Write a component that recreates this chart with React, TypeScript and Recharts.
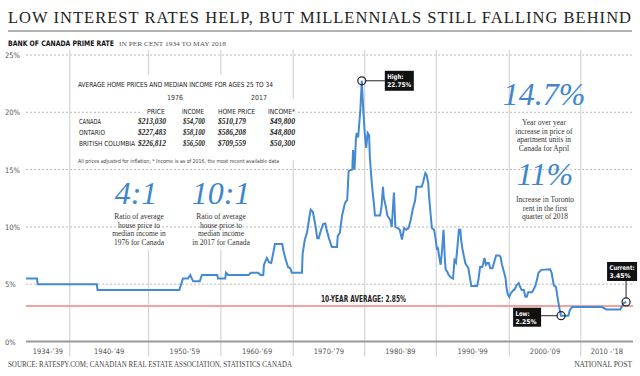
import {
  LineChart,
  Line,
  XAxis,
  YAxis,
  CartesianGrid,
  ReferenceLine,
  ReferenceDot,
} from 'recharts';

// Prime rate as drawn, year position on the chart's axis
const YEARS = [
  1934.0, 1935.5, 1935.6, 1943.7, 1943.8, 1955.0, 1955.5, 1956.2, 1956.5, 1956.9,
  1957.8, 1958.1, 1960.2, 1960.3, 1961.3, 1961.4, 1961.7, 1964.5, 1964.8, 1965.8,
  1966.1, 1966.5, 1966.6, 1967.0, 1967.3, 1967.6, 1967.8, 1968.1, 1969.1, 1969.3,
  1969.6, 1969.9, 1970.2, 1970.4, 1971.8, 1971.9, 1972.2, 1972.5, 1972.8, 1973.0,
  1973.3, 1973.6, 1973.9, 1974.1, 1974.4, 1974.7, 1975.0, 1975.2, 1975.5, 1975.9,
  1976.6, 1976.7, 1977.0, 1977.3, 1977.7, 1978.0, 1978.2, 1978.7, 1978.8, 1979.0,
  1979.2, 1979.3, 1979.5, 1979.8, 1980.0, 1980.2, 1980.4, 1980.6, 1980.8, 1981.0,
  1981.1, 1981.3, 1981.5, 1981.7, 1981.8, 1982.5, 1982.7, 1982.9, 1983.0, 1983.3,
  1983.5, 1983.9, 1984.1, 1984.4, 1984.6, 1984.9, 1985.2, 1985.5, 1985.8, 1986.1,
  1986.4, 1986.7, 1987.0, 1987.3, 1987.5, 1988.2, 1988.4, 1988.7, 1988.9, 1989.1,
  1989.2, 1989.4, 1989.6, 1989.9, 1990.1, 1990.3, 1990.4, 1990.6, 1990.8, 1991.0,
  1991.2, 1991.4, 1991.5, 1991.7, 1991.9, 1992.2, 1992.5, 1992.7, 1992.9, 1993.1,
  1993.3, 1993.5, 1993.6, 1993.8, 1994.0, 1994.2, 1994.5, 1994.6, 1994.8, 1995.0,
  1995.8, 1996.0, 1996.2, 1996.5, 1996.6, 1996.8, 1997.0, 1997.2, 1997.4, 1997.6,
  1997.9, 1998.1, 1998.4, 1998.8, 1999.0, 1999.2, 1999.5, 1999.7, 1999.8, 2000.0,
  2000.2, 2000.4, 2000.8, 2000.9, 2001.2, 2001.5, 2001.7, 2001.9, 2002.2, 2002.4,
  2002.6, 2002.8, 2003.3, 2003.5, 2003.8, 2004.0, 2004.2, 2004.6, 2005.8, 2006.0,
  2006.3, 2006.6, 2006.8, 2007.1, 2007.3, 2008.3, 2008.5, 2008.8, 2012.9, 2013.5,
  2015.4, 2015.9, 2016.2,
];

const RATES = [
  5.5, 5.5, 5.0, 5.0, 4.5, 4.5, 5.5, 5.5, 5.8, 5.25,
  5.25, 5.8, 5.8, 5.5, 5.5, 6.0, 5.8, 5.8, 6.0, 6.0,
  5.8, 5.8, 6.7, 7.3, 6.9, 6.85, 7.5, 8.5, 8.5, 7.8,
  7.1, 6.5, 6.4, 6.0, 6.0, 7.7, 8.9, 9.5, 10.8, 11.5,
  11.3, 10.3, 9.0, 9.0, 9.7, 10.25, 10.3, 9.7, 9.0, 8.25,
  8.25, 9.2, 9.5, 11.0, 12.1, 12.35, 14.9, 15.0, 16.7, 15.0,
  17.75, 18.2, 17.8, 20.2, 22.75, 20.2, 18.2, 16.9, 18.2, 18.0,
  16.1, 14.35, 12.95, 11.75, 11.0, 11.0, 11.75, 13.5, 12.6, 11.75,
  11.0, 10.6, 10.0, 13.0, 10.0, 9.9, 9.75, 8.9, 9.9, 9.75,
  9.9, 10.6, 11.6, 12.3, 13.5, 13.5, 13.9, 14.7, 14.5, 13.8,
  12.8, 11.3, 9.9, 9.75, 9.0, 8.0, 8.25, 7.4, 6.7, 8.0,
  9.75, 6.9, 6.25, 6.1, 5.8, 5.6, 5.5, 7.1, 6.9, 8.25,
  9.75, 9.75, 8.9, 8.0, 7.4, 6.8, 6.5, 6.4, 5.6, 4.85,
  4.85, 5.5, 6.5, 6.5, 6.7, 7.3, 6.7, 6.85, 6.85, 6.4,
  6.4, 6.85, 7.5, 7.5, 7.4, 6.7, 6.0, 5.5, 4.8, 4.1,
  3.9, 4.2, 4.5, 4.5, 4.9, 5.1, 4.75, 4.5, 4.5, 3.9,
  3.9, 4.3, 4.3, 4.5, 4.9, 5.4, 6.0, 6.25, 6.3, 6.0,
  4.9, 4.75, 3.9, 2.8, 2.25, 2.25, 2.75, 3.0, 3.0, 2.8,
  2.8, 3.35, 3.45,
];

const X_START = 1934;
const X_END = 2017.15;
const DECADE_EDGES = [1940, 1950.8, 1960.7, 1970.6, 1980.4, 1990.2, 2000.2, 2010];
const DECADE_LABELS = [
  '1934-’39', '1940-’49', '1950-’59', '1960-’69', '1970-’79',
  '1980-’89', '1990-’99', '2000-’09', '2010 -’18',
];
// parts of a decade line hidden behind the table and notes
const GRID_GAPS: ([number, number] | null)[] = [
  null, [8, 23.3], [8, 23.3], [15.8, 21.2], null, null, null, null,
];
const Y_TICKS = [0, 5, 10, 15, 20, 25];

const AVERAGE_RATE = 3.1;
const AVERAGE_LABEL = '10-YEAR AVERAGE: 2.85%';

const TABLE_YEARS = ['1976', '2017'];
const TABLE_COLUMNS = ['PRICE', 'INCOME', 'HOME PRICE', 'INCOME*'];
const REGIONS = ['CANADA', 'ONTARIO', 'BRITISH COLUMBIA'];
const PRICE_1976 = ['$213,030', '$227,483', '$226,812'];
const INCOME_1976 = ['$54,700', '$58,100', '$56,500'];
const PRICE_2017 = ['$510,179', '$586,208', '$709,559'];
const INCOME_2017 = ['$49,800', '$48,800', '$50,300'];

const SANS = "'Liberation Sans Narrow', 'DejaVu Sans Condensed', Roboto, sans-serif";
const SERIF = "'Liberation Serif', 'DejaVu Serif', serif";
const BLUE = '#4489d4';
const BIG_BLUE = '#3f86cc';

const data = YEARS.map((year, i) => ({ year, rate: RATES[i] }));

const bounds = [X_START, ...DECADE_EDGES, X_END];
const tickMids = DECADE_LABELS.map((_, i) => (bounds[i] + bounds[i + 1]) / 2);

const highIdx = RATES.indexOf(Math.max(...RATES));
const lowIdx = RATES.lastIndexOf(Math.min(...RATES)) - 1;
const lastIdx = RATES.length - 1;

type Box = { dx: number; dy: number; w: number; h: number };

function Callout(props: any) {
  const { cx, cy, box, lead, lines, widths } = props as {
    cx: number;
    cy: number;
    box: Box;
    lead: [number, number, number, number];
    lines: string[];
    widths: number[];
  };
  const bx = cx + box.dx;
  const by = cy + box.dy;
  return (
    <g>
      <line
        x1={cx + lead[0]}
        y1={cy + lead[1]}
        x2={cx + lead[2]}
        y2={cy + lead[3]}
        stroke="#222"
        strokeWidth={1}
      />
      <circle cx={cx} cy={cy} r={4} fill="none" stroke="#222" strokeWidth={1.2} />
      <rect x={bx} y={by} width={box.w} height={box.h} fill="#111" />
      {lines.map((t, i) => (
        <text
          key={t}
          x={bx + 2.5}
          y={by + 8 + i * 8.3}
          fill="#fff"
          fontFamily={SANS}
          fontWeight={700}
          fontSize={6.5}
          textLength={widths[i]}
          lengthAdjust="spacingAndGlyphs"
        >
          {t}
        </text>
      ))}
    </g>
  );
}

function Note({ x, y, lines }: { x: number; y: number; lines: string[] }) {
  return (
    <text fontFamily={SERIF} fontSize={7.5} fill="#333" textAnchor="middle">
      {lines.map((t, i) => (
        <tspan key={t} x={x} y={y + i * 8.6}>
          {t}
        </tspan>
      ))}
    </text>
  );
}

function Overlay() {
  const colX = [138, 183, 218, 270];
  const colW = [28, 22, 28, 25];
  const headX = [147, 182, 218, 268];
  const headW = [18, 22, 37, 27];
  const regionW = [22, 26, 56];
  const rowY = [124, 135, 146];
  const cols = [PRICE_1976, INCOME_1976, PRICE_2017, INCOME_2017];
  return (
    <svg
      width={640}
      height={376}
      style={{ position: 'absolute', left: 0, top: 0, pointerEvents: 'none' }}
    >
      <text x={8} y={23} fontFamily={SERIF} fontSize={16.5} fill="#222" textLength={623} lengthAdjust="spacing">
        LOW INTEREST RATES HELP, BUT MILLENNIALS STILL FALLING BEHIND
      </text>
      <line x1={8} x2={632} y1={31} y2={31} stroke="#999" strokeWidth={1.5} />
      <text y={45.5}>
        <tspan x={8} fontFamily={SANS} fontWeight={700} fontSize={7.5} fill="#111" textLength={106} lengthAdjust="spacingAndGlyphs">
          BANK OF CANADA PRIME RATE
        </tspan>
        <tspan x={119} fontFamily={SERIF} fontSize={6.5} fill="#555" textLength={107} lengthAdjust="spacingAndGlyphs">
          IN PER CENT 1934 TO MAY 2018
        </tspan>
      </text>

      {/* table */}
      <rect x={140} y={106} width={158} height={10} fill="#fff" />
      <text x={78} y={86.5} fontFamily={SANS} fontSize={7} fill="#222" textLength={195} lengthAdjust="spacingAndGlyphs">
        AVERAGE HOME PRICES AND MEDIAN INCOME FOR AGES 25 TO 34
      </text>
      <text x={175} y={100} fontFamily={SANS} fontSize={7} fill="#333" textAnchor="middle">
        {TABLE_YEARS[0]}
      </text>
      <text x={259} y={100} fontFamily={SANS} fontSize={7} fill="#333" textAnchor="middle">
        {TABLE_YEARS[1]}
      </text>
      {TABLE_COLUMNS.map((c, i) => (
        <text
          key={c}
          x={headX[i]}
          y={113.5}
          fontFamily={SANS}
          fontSize={7}
          fill="#222"
          textLength={headW[i]}
          lengthAdjust="spacingAndGlyphs"
        >
          {c}
        </text>
      ))}
      {REGIONS.map((r, ri) => (
        <g key={r}>
          <text
            x={79}
            y={rowY[ri]}
            fontFamily={SANS}
            fontSize={7}
            fill="#222"
            textLength={regionW[ri]}
            lengthAdjust="spacingAndGlyphs"
          >
            {r}
          </text>
          {cols.map((col, ci) => (
            <text
              key={ci}
              x={colX[ci]}
              y={rowY[ri]}
              fontFamily={SERIF}
              fontStyle="italic"
              fontWeight={700}
              fontSize={8}
              fill="#222"
              textLength={colW[ci]}
              lengthAdjust="spacingAndGlyphs"
            >
              {col[ri]}
            </text>
          ))}
        </g>
      ))}
      <text x={78} y={163} fontFamily={SANS} fontSize={5.5} fill="#444" textLength={201} lengthAdjust="spacingAndGlyphs">
        All prices adjusted for inflation; * Income is as of 2016, the most recent available data
      </text>

      {/* big figures */}
      <text x={136} y={204} fontFamily={SERIF} fontStyle="italic" fontSize={32} fill={BIG_BLUE} textAnchor="middle">
        4:1
      </text>
      <Note x={139} y={219} lines={['Ratio of average', 'house price to', 'median income in', '1976 for Canada']} />
      <text x={221} y={204} fontFamily={SERIF} fontStyle="italic" fontSize={32} fill={BIG_BLUE} textAnchor="middle">
        10:1
      </text>
      <Note x={221} y={219} lines={['Ratio of average', 'house price to', 'median income', 'in 2017 for Canada']} />
      <text x={544} y={105} fontFamily={SERIF} fontStyle="italic" fontSize={32} fill={BIG_BLUE} textAnchor="middle">
        14.7%
      </text>
      <Note x={544} y={125} lines={['Year over year', 'increase in price of', 'apartment units in', 'Canada for April']} />
      <text x={545} y={185} fontFamily={SERIF} fontStyle="italic" fontSize={32} fill={BIG_BLUE} textAnchor="middle">
        11%
      </text>
      <Note x={545} y={202} lines={['Increase in Toronto', 'rent in the first', 'quarter of 2018']} />

      <text x={8} y={367} fontFamily={SERIF} fontSize={7.5} fill="#444" textLength={284} lengthAdjust="spacingAndGlyphs">
        SOURCE: RATESPY.COM; CANADIAN REAL ESTATE ASSOCIATION, STATISTICS CANADA
      </text>
      <text x={632} y={367} fontFamily={SERIF} fontSize={7.5} fill="#444" textAnchor="end">
        NATIONAL POST
      </text>
    </svg>
  );
}

export default function App() {
  const high = data[highIdx];
  const low = data[lowIdx];
  const current = data[lastIdx];
  return (
    <div style={{ position: 'absolute', left: 0, top: 0, width: 640, height: 376, background: '#fff' }}>
      <LineChart
        width={640}
        height={376}
        data={data}
        margin={{ top: 55, right: 7, bottom: 14.5, left: 0 }}
      >
        <CartesianGrid vertical={false} stroke="#bbb" strokeDasharray="2 2" />
        {DECADE_EDGES.map((x, i) => {
          const gap = GRID_GAPS[i];
          const parts: [number, number][] = gap
            ? [[-1.3, gap[0]], [gap[1], 25.45]]
            : [[-1.3, 25.45]];
          return parts.map(([a, b]) => (
            <ReferenceLine
              key={`${x}-${a}`}
              segment={[{ x, y: a }, { x, y: b }]}
              stroke="#ccc"
              strokeWidth={1}
              ifOverflow="visible"
            />
          ));
        })}
        <XAxis
          type="number"
          dataKey="year"
          domain={[X_START, X_END]}
          ticks={tickMids}
          interval={0}
          height={20}
          tickLine={false}
          tickSize={0}
          axisLine={{ stroke: '#999', strokeWidth: 2 }}
          tick={(p: any) => (
            <text x={p.x} y={p.y + 10.5} textAnchor="middle" fontFamily={SANS} fontSize={7.5} fill="#555">
              {DECADE_LABELS[tickMids.indexOf(p.payload.value)]}
            </text>
          )}
        />
        <YAxis
          domain={[0, 25]}
          ticks={Y_TICKS}
          width={26}
          axisLine={false}
          tickLine={false}
          tick={(p: any) => (
            <text x={5} y={p.y + 3} fontFamily={SANS} fontSize={7.5} fill="#555">
              {`${p.payload.value}%`}
            </text>
          )}
        />
        <ReferenceLine
          y={AVERAGE_RATE}
          stroke="#f2a0a0"
          strokeWidth={2}
          label={(p: any) => (
            <text
              x={p.viewBox.x + 295}
              y={p.viewBox.y - 4}
              fontFamily={SANS}
              fontWeight={700}
              fontSize={8.5}
              fill="#222"
              textLength={85}
              lengthAdjust="spacingAndGlyphs"
            >
              {AVERAGE_LABEL}
            </text>
          )}
        />
        <Line
          type="linear"
          dataKey="rate"
          stroke={BLUE}
          strokeWidth={2}
          dot={false}
          isAnimationActive={false}
        />
        <ReferenceDot
          x={high.year}
          y={high.rate}
          ifOverflow="visible"
          shape={(p: any) => (
            <Callout
              {...p}
              box={{ dx: 23, dy: -10, w: 29, h: 20 }}
              lead={[4, 0, 23, 0]}
              lines={['High:', `${high.rate}%`]}
              widths={[16, 24]}
            />
          )}
        />
        <ReferenceDot
          x={low.year}
          y={low.rate}
          ifOverflow="visible"
          shape={(p: any) => (
            <Callout
              {...p}
              box={{ dx: -48, dy: -8, w: 28, h: 19 }}
              lead={[-20, 0, -4, 0]}
              lines={['Low:', `${low.rate}%`]}
              widths={[14, 21]}
            />
          )}
        />
        <ReferenceDot
          x={current.year}
          y={current.rate}
          ifOverflow="visible"
          shape={(p: any) => (
            <Callout
              {...p}
              box={{ dx: -19, dy: -40, w: 30, h: 19 }}
              lead={[0, -21, 0, -4]}
              lines={['Current:', `${current.rate}%`]}
              widths={[25, 21]}
            />
          )}
        />
      </LineChart>
      <Overlay />
    </div>
  );
}
